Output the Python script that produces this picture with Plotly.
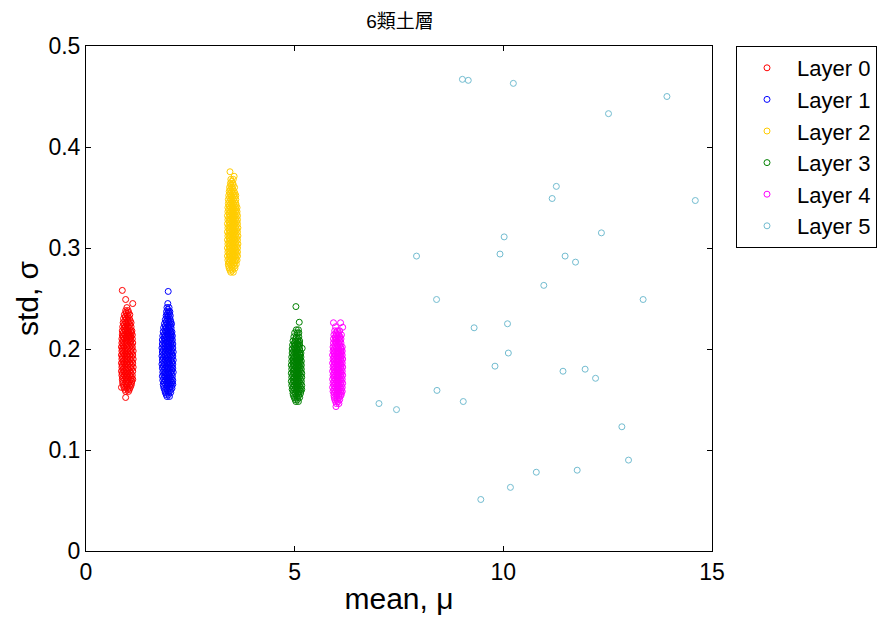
import plotly.graph_objects as go

# ---------------- data ----------------
layer_names = ["Layer 0", "Layer 1", "Layer 2", "Layer 3", "Layer 4", "Layer 5"]
layer_colors = ["#FF0000", "#0000FF", "#FFCC00", "#008000", "#FF00FF", "#72BCD0"]

layer0_mean = [
    0.87, 0.95, 1.12, 0.95, 0.85,
    0.95, 1.02,
    0.91, 0.98, 1.06,
    0.88, 0.95, 1.02, 1.09,
    0.87, 0.93, 1.00, 1.07, 1.12,
    0.86, 0.92, 0.99, 1.05, 1.11,
    0.85, 0.91, 0.97, 1.04, 1.12,
    0.86, 0.93, 1.00, 1.07, 1.13,
    0.85, 0.91, 0.98, 1.05, 1.12,
    0.86, 0.93, 0.99, 1.06, 1.13,
    0.85, 0.92, 0.98, 1.05, 1.12,
    0.86, 0.93, 1.00, 1.07, 1.13,
    0.85, 0.91, 0.98, 1.04, 1.11,
    0.86, 0.93, 0.99, 1.06, 1.12,
    0.86, 0.92, 0.98, 1.05, 1.11,
    0.87, 0.93, 1.00, 1.06, 1.11,
    0.87, 0.94, 1.00, 1.07, 1.10,
    0.88, 0.94, 1.01, 1.08,
    0.89, 0.96, 1.02, 1.08,
    0.90, 0.97, 1.04,
    0.92, 0.99, 1.05,
    0.95, 1.01,
    0.98,
]
layer0_std = [
    0.258, 0.249, 0.245, 0.152, 0.162,
    0.158, 0.158,
    0.162, 0.162, 0.162,
    0.166, 0.166, 0.166, 0.166,
    0.170, 0.170, 0.170, 0.170, 0.170,
    0.174, 0.174, 0.174, 0.174, 0.174,
    0.178, 0.178, 0.178, 0.178, 0.178,
    0.182, 0.182, 0.182, 0.182, 0.182,
    0.186, 0.186, 0.186, 0.186, 0.186,
    0.190, 0.190, 0.190, 0.190, 0.190,
    0.194, 0.194, 0.194, 0.194, 0.194,
    0.198, 0.198, 0.198, 0.198, 0.198,
    0.202, 0.202, 0.202, 0.202, 0.202,
    0.206, 0.206, 0.206, 0.206, 0.206,
    0.210, 0.210, 0.210, 0.210, 0.210,
    0.214, 0.214, 0.214, 0.214, 0.214,
    0.218, 0.218, 0.218, 0.218, 0.218,
    0.222, 0.222, 0.222, 0.222,
    0.226, 0.226, 0.226, 0.226,
    0.230, 0.230, 0.230,
    0.234, 0.234, 0.234,
    0.238, 0.238,
    0.241,
]
layer0_mean_fill = [
    0.93, 1.00, 1.04,
    0.90, 0.97, 1.04, 1.08,
    0.88, 0.96, 1.04, 1.10,
    0.88, 0.95, 1.02, 1.09,
    0.87, 0.94, 1.01, 1.08,
    0.88, 0.95, 1.02, 1.09,
    0.87, 0.94, 1.01, 1.09,
    0.88, 0.95, 1.02, 1.09,
    0.87, 0.94, 1.01, 1.09,
    0.88, 0.95, 1.02, 1.09,
    0.87, 0.94, 1.01, 1.09,
    0.88, 0.95, 1.02, 1.09,
    0.88, 0.95, 1.02, 1.08,
    0.89, 0.96, 1.03, 1.08,
    0.89, 0.97, 1.03, 1.09,
    0.91, 0.97, 1.04,
    0.91, 0.98, 1.05,
    0.93, 1.00, 1.06,
    0.94, 1.01,
    0.96, 1.02,
]
layer0_std_fill = [
    0.160, 0.160, 0.160,
    0.164, 0.164, 0.164, 0.164,
    0.168, 0.168, 0.168, 0.168,
    0.172, 0.172, 0.172, 0.172,
    0.176, 0.176, 0.176, 0.176,
    0.180, 0.180, 0.180, 0.180,
    0.184, 0.184, 0.184, 0.184,
    0.188, 0.188, 0.188, 0.188,
    0.192, 0.192, 0.192, 0.192,
    0.196, 0.196, 0.196, 0.196,
    0.200, 0.200, 0.200, 0.200,
    0.204, 0.204, 0.204, 0.204,
    0.208, 0.208, 0.208, 0.208,
    0.212, 0.212, 0.212, 0.212,
    0.216, 0.216, 0.216, 0.216,
    0.220, 0.220, 0.220,
    0.224, 0.224, 0.224,
    0.228, 0.228, 0.228,
    0.232, 0.232,
    0.236, 0.236,
]

layer1_mean = [
    1.97,
    1.94, 2.00,
    1.90, 1.97, 2.03,
    1.87, 1.93, 2.00, 2.06,
    1.85, 1.91, 1.97, 2.03, 2.08,
    1.84, 1.90, 1.96, 2.02, 2.08,
    1.83, 1.89, 1.95, 2.01, 2.07,
    1.84, 1.90, 1.97, 2.03, 2.09,
    1.83, 1.89, 1.96, 2.02, 2.08,
    1.82, 1.88, 1.95, 2.01, 2.08,
    1.83, 1.90, 1.96, 2.03, 2.09,
    1.82, 1.89, 1.95, 2.02, 2.08,
    1.83, 1.90, 1.97, 2.03, 2.09,
    1.82, 1.89, 1.96, 2.02, 2.08,
    1.83, 1.90, 1.96, 2.03, 2.08,
    1.83, 1.89, 1.95, 2.02, 2.07,
    1.84, 1.90, 1.97, 2.03, 2.07,
    1.85, 1.91, 1.97, 2.03, 2.06,
    1.86, 1.92, 1.98, 2.04,
    1.88, 1.94, 2.00, 2.05,
    1.90, 1.96, 2.02,
    1.92, 1.97, 2.02,
    1.93, 1.98, 2.01,
    1.94, 1.99,
    1.96,
]
layer1_std = [
    0.257,
    0.153, 0.153,
    0.157, 0.157, 0.157,
    0.161, 0.161, 0.161, 0.161,
    0.165, 0.165, 0.165, 0.165, 0.165,
    0.169, 0.169, 0.169, 0.169, 0.169,
    0.173, 0.173, 0.173, 0.173, 0.173,
    0.177, 0.177, 0.177, 0.177, 0.177,
    0.181, 0.181, 0.181, 0.181, 0.181,
    0.185, 0.185, 0.185, 0.185, 0.185,
    0.189, 0.189, 0.189, 0.189, 0.189,
    0.193, 0.193, 0.193, 0.193, 0.193,
    0.197, 0.197, 0.197, 0.197, 0.197,
    0.201, 0.201, 0.201, 0.201, 0.201,
    0.205, 0.205, 0.205, 0.205, 0.205,
    0.209, 0.209, 0.209, 0.209, 0.209,
    0.213, 0.213, 0.213, 0.213, 0.213,
    0.217, 0.217, 0.217, 0.217, 0.217,
    0.221, 0.221, 0.221, 0.221,
    0.225, 0.225, 0.225, 0.225,
    0.229, 0.229, 0.229,
    0.233, 0.233, 0.233,
    0.237, 0.237, 0.237,
    0.241, 0.241,
    0.245,
]
layer1_mean_fill = [
    1.92, 1.98,
    1.89, 1.95, 2.02,
    1.86, 1.94, 2.01, 2.05,
    1.87, 1.93, 2.00, 2.06,
    1.86, 1.93, 1.99, 2.05,
    1.86, 1.92, 1.99, 2.05,
    1.86, 1.93, 2.00, 2.06,
    1.85, 1.92, 1.98, 2.05,
    1.86, 1.93, 1.99, 2.06,
    1.85, 1.92, 1.98, 2.05,
    1.86, 1.93, 2.00, 2.06,
    1.85, 1.92, 1.99, 2.05,
    1.86, 1.93, 1.99, 2.05,
    1.86, 1.92, 1.99, 2.05,
    1.87, 1.93, 2.00, 2.05,
    1.88, 1.94, 2.00, 2.05,
    1.89, 1.95, 2.01,
    1.90, 1.97, 2.03,
    1.92, 1.98, 2.03,
    1.94, 2.00,
    1.95, 2.00,
    1.96,
]
layer1_std_fill = [
    0.155, 0.155,
    0.159, 0.159, 0.159,
    0.163, 0.163, 0.163, 0.163,
    0.167, 0.167, 0.167, 0.167,
    0.171, 0.171, 0.171, 0.171,
    0.175, 0.175, 0.175, 0.175,
    0.179, 0.179, 0.179, 0.179,
    0.183, 0.183, 0.183, 0.183,
    0.187, 0.187, 0.187, 0.187,
    0.191, 0.191, 0.191, 0.191,
    0.195, 0.195, 0.195, 0.195,
    0.199, 0.199, 0.199, 0.199,
    0.203, 0.203, 0.203, 0.203,
    0.207, 0.207, 0.207, 0.207,
    0.211, 0.211, 0.211, 0.211,
    0.215, 0.215, 0.215, 0.215,
    0.219, 0.219, 0.219,
    0.223, 0.223, 0.223,
    0.227, 0.227, 0.227,
    0.231, 0.231,
    0.235, 0.235,
    0.239,
]

layer2_mean = [
    3.45, 3.55,
    3.47, 3.53,
    3.43, 3.50, 3.57,
    3.41, 3.47, 3.54, 3.60,
    3.40, 3.46, 3.52, 3.58, 3.62,
    3.39, 3.45, 3.51, 3.57, 3.63,
    3.40, 3.46, 3.52, 3.58, 3.63,
    3.39, 3.45, 3.51, 3.57, 3.63,
    3.40, 3.46, 3.52, 3.58, 3.64,
    3.39, 3.45, 3.51, 3.57, 3.63,
    3.40, 3.46, 3.52, 3.58, 3.64,
    3.39, 3.45, 3.51, 3.57, 3.63,
    3.40, 3.46, 3.52, 3.58, 3.64,
    3.39, 3.45, 3.51, 3.57, 3.63,
    3.40, 3.46, 3.52, 3.58, 3.63,
    3.39, 3.45, 3.51, 3.57, 3.63,
    3.40, 3.46, 3.52, 3.58, 3.62,
    3.40, 3.46, 3.52, 3.58, 3.62,
    3.41, 3.47, 3.53, 3.59,
    3.41, 3.47, 3.53, 3.59,
    3.42, 3.48, 3.54, 3.59,
    3.43, 3.49, 3.55,
    3.44, 3.50, 3.56,
    3.46, 3.52,
    3.47, 3.53,
]
layer2_std = [
    0.3755, 0.371,
    0.276, 0.276,
    0.280, 0.280, 0.280,
    0.284, 0.284, 0.284, 0.284,
    0.288, 0.288, 0.288, 0.288, 0.288,
    0.292, 0.292, 0.292, 0.292, 0.292,
    0.296, 0.296, 0.296, 0.296, 0.296,
    0.300, 0.300, 0.300, 0.300, 0.300,
    0.304, 0.304, 0.304, 0.304, 0.304,
    0.308, 0.308, 0.308, 0.308, 0.308,
    0.312, 0.312, 0.312, 0.312, 0.312,
    0.316, 0.316, 0.316, 0.316, 0.316,
    0.320, 0.320, 0.320, 0.320, 0.320,
    0.324, 0.324, 0.324, 0.324, 0.324,
    0.328, 0.328, 0.328, 0.328, 0.328,
    0.332, 0.332, 0.332, 0.332, 0.332,
    0.336, 0.336, 0.336, 0.336, 0.336,
    0.340, 0.340, 0.340, 0.340, 0.340,
    0.344, 0.344, 0.344, 0.344,
    0.348, 0.348, 0.348, 0.348,
    0.352, 0.352, 0.352, 0.352,
    0.356, 0.356, 0.356,
    0.360, 0.360, 0.360,
    0.364, 0.364,
    0.368, 0.368,
]
layer2_mean_fill = [
    3.45, 3.51,
    3.42, 3.49, 3.56,
    3.43, 3.50, 3.57,
    3.42, 3.48, 3.54, 3.60,
    3.43, 3.49, 3.55, 3.61,
    3.42, 3.48, 3.54, 3.60,
    3.43, 3.49, 3.55, 3.61,
    3.42, 3.48, 3.54, 3.60,
    3.43, 3.49, 3.55, 3.61,
    3.42, 3.48, 3.54, 3.60,
    3.43, 3.49, 3.55, 3.61,
    3.42, 3.48, 3.54, 3.60,
    3.43, 3.49, 3.55, 3.61,
    3.42, 3.48, 3.54, 3.60,
    3.43, 3.49, 3.55, 3.61,
    3.42, 3.48, 3.54, 3.60,
    3.43, 3.49, 3.55, 3.60,
    3.44, 3.50, 3.56,
    3.44, 3.50, 3.56,
    3.45, 3.51, 3.57,
    3.46, 3.52,
    3.47, 3.53,
    3.49,
]
layer2_std_fill = [
    0.278, 0.278,
    0.282, 0.282, 0.282,
    0.286, 0.286, 0.286,
    0.290, 0.290, 0.290, 0.290,
    0.294, 0.294, 0.294, 0.294,
    0.298, 0.298, 0.298, 0.298,
    0.302, 0.302, 0.302, 0.302,
    0.306, 0.306, 0.306, 0.306,
    0.310, 0.310, 0.310, 0.310,
    0.314, 0.314, 0.314, 0.314,
    0.318, 0.318, 0.318, 0.318,
    0.322, 0.322, 0.322, 0.322,
    0.326, 0.326, 0.326, 0.326,
    0.330, 0.330, 0.330, 0.330,
    0.334, 0.334, 0.334, 0.334,
    0.338, 0.338, 0.338, 0.338,
    0.342, 0.342, 0.342, 0.342,
    0.346, 0.346, 0.346,
    0.350, 0.350, 0.350,
    0.354, 0.354, 0.354,
    0.358, 0.358,
    0.362, 0.362,
    0.366,
]

layer3_mean = [
    5.03, 5.11, 5.18,
    5.03, 5.09,
    4.99, 5.06, 5.12,
    4.96, 5.02, 5.08, 5.14,
    4.94, 5.00, 5.06, 5.12, 5.17,
    4.93, 4.99, 5.05, 5.11, 5.17,
    4.92, 4.98, 5.04, 5.10, 5.16,
    4.93, 4.99, 5.05, 5.11, 5.17,
    4.92, 4.98, 5.04, 5.10, 5.17,
    4.93, 4.99, 5.05, 5.11, 5.16,
    4.92, 4.98, 5.04, 5.10, 5.16,
    4.93, 4.99, 5.05, 5.11, 5.16,
    4.93, 4.99, 5.05, 5.11, 5.15,
    4.94, 5.00, 5.06, 5.12, 5.15,
    4.94, 5.00, 5.06, 5.12,
    4.95, 5.01, 5.07, 5.12,
    4.96, 5.02, 5.08, 5.12,
    4.98, 5.04, 5.10,
    5.00, 5.06, 5.10,
    5.04, 5.09,
]
layer3_std = [
    0.242, 0.2265, 0.2007,
    0.148, 0.148,
    0.152, 0.152, 0.152,
    0.156, 0.156, 0.156, 0.156,
    0.160, 0.160, 0.160, 0.160, 0.160,
    0.164, 0.164, 0.164, 0.164, 0.164,
    0.168, 0.168, 0.168, 0.168, 0.168,
    0.172, 0.172, 0.172, 0.172, 0.172,
    0.176, 0.176, 0.176, 0.176, 0.176,
    0.180, 0.180, 0.180, 0.180, 0.180,
    0.184, 0.184, 0.184, 0.184, 0.184,
    0.188, 0.188, 0.188, 0.188, 0.188,
    0.192, 0.192, 0.192, 0.192, 0.192,
    0.196, 0.196, 0.196, 0.196, 0.196,
    0.200, 0.200, 0.200, 0.200,
    0.204, 0.204, 0.204, 0.204,
    0.208, 0.208, 0.208, 0.208,
    0.212, 0.212, 0.212,
    0.216, 0.216, 0.216,
    0.219, 0.219,
]
layer3_mean_fill = [
    5.01, 5.07,
    4.97, 5.04, 5.10,
    4.97, 5.04, 5.10, 5.15,
    4.96, 5.02, 5.08, 5.14,
    4.95, 5.02, 5.08, 5.14,
    4.96, 5.02, 5.08, 5.14,
    4.95, 5.02, 5.08, 5.14,
    4.96, 5.02, 5.08, 5.14,
    4.95, 5.02, 5.08, 5.14,
    4.96, 5.02, 5.08, 5.14,
    4.96, 5.02, 5.08, 5.13,
    4.97, 5.03, 5.09, 5.13,
    4.97, 5.03, 5.09,
    4.98, 5.04, 5.10,
    4.99, 5.05, 5.11,
    5.02, 5.08,
]
layer3_std_fill = [
    0.150, 0.150,
    0.154, 0.154, 0.154,
    0.158, 0.158, 0.158, 0.158,
    0.162, 0.162, 0.162, 0.162,
    0.166, 0.166, 0.166, 0.166,
    0.170, 0.170, 0.170, 0.170,
    0.174, 0.174, 0.174, 0.174,
    0.178, 0.178, 0.178, 0.178,
    0.182, 0.182, 0.182, 0.182,
    0.186, 0.186, 0.186, 0.186,
    0.190, 0.190, 0.190, 0.190,
    0.194, 0.194, 0.194, 0.194,
    0.198, 0.198, 0.198,
    0.202, 0.202, 0.202,
    0.206, 0.206, 0.206,
    0.210, 0.210,
]

layer4_mean = [
    5.93, 6.10, 5.98, 6.15, 5.99,
    6.00, 6.06,
    5.96, 6.02, 6.08,
    5.94, 6.00, 6.06, 6.11,
    5.92, 5.98, 6.04, 6.10, 6.14,
    5.91, 5.97, 6.03, 6.09, 6.14,
    5.92, 5.98, 6.04, 6.10, 6.15,
    5.91, 5.97, 6.03, 6.09, 6.14,
    5.92, 5.98, 6.04, 6.10, 6.15,
    5.91, 5.97, 6.03, 6.09, 6.14,
    5.92, 5.98, 6.04, 6.10, 6.15,
    5.91, 5.97, 6.03, 6.09, 6.14,
    5.92, 5.98, 6.04, 6.10, 6.15,
    5.91, 5.97, 6.03, 6.09, 6.14,
    5.92, 5.98, 6.04, 6.10, 6.14,
    5.92, 5.98, 6.04, 6.10, 6.14,
    5.93, 5.99, 6.05, 6.11,
    5.93, 5.99, 6.05, 6.11,
    5.94, 6.00, 6.06, 6.12,
    5.96, 6.02, 6.08,
]
layer4_std = [
    0.226, 0.226, 0.222, 0.2215, 0.143,
    0.146, 0.146,
    0.150, 0.150, 0.150,
    0.154, 0.154, 0.154, 0.154,
    0.158, 0.158, 0.158, 0.158, 0.158,
    0.162, 0.162, 0.162, 0.162, 0.162,
    0.166, 0.166, 0.166, 0.166, 0.166,
    0.170, 0.170, 0.170, 0.170, 0.170,
    0.174, 0.174, 0.174, 0.174, 0.174,
    0.178, 0.178, 0.178, 0.178, 0.178,
    0.182, 0.182, 0.182, 0.182, 0.182,
    0.186, 0.186, 0.186, 0.186, 0.186,
    0.190, 0.190, 0.190, 0.190, 0.190,
    0.194, 0.194, 0.194, 0.194, 0.194,
    0.198, 0.198, 0.198, 0.198, 0.198,
    0.202, 0.202, 0.202, 0.202, 0.202,
    0.206, 0.206, 0.206, 0.206,
    0.210, 0.210, 0.210, 0.210,
    0.214, 0.214, 0.214, 0.214,
    0.218, 0.218, 0.218,
]
layer4_mean_fill = [
    5.98, 6.04,
    5.95, 6.01, 6.07,
    5.95, 6.01, 6.07, 6.12,
    5.94, 6.00, 6.06, 6.12,
    5.94, 6.00, 6.06, 6.12,
    5.94, 6.00, 6.06, 6.12,
    5.94, 6.00, 6.06, 6.12,
    5.94, 6.00, 6.06, 6.12,
    5.94, 6.00, 6.06, 6.12,
    5.94, 6.00, 6.06, 6.12,
    5.94, 6.00, 6.06, 6.12,
    5.94, 6.00, 6.06, 6.12,
    5.94, 6.00, 6.06, 6.12,
    5.94, 6.00, 6.06, 6.12,
    5.96, 6.02, 6.08,
    5.96, 6.02, 6.08,
    5.97, 6.03, 6.09,
    5.99, 6.05,
]
layer4_std_fill = [
    0.148, 0.148,
    0.152, 0.152, 0.152,
    0.156, 0.156, 0.156, 0.156,
    0.160, 0.160, 0.160, 0.160,
    0.164, 0.164, 0.164, 0.164,
    0.168, 0.168, 0.168, 0.168,
    0.172, 0.172, 0.172, 0.172,
    0.176, 0.176, 0.176, 0.176,
    0.180, 0.180, 0.180, 0.180,
    0.184, 0.184, 0.184, 0.184,
    0.188, 0.188, 0.188, 0.188,
    0.192, 0.192, 0.192, 0.192,
    0.196, 0.196, 0.196, 0.196,
    0.200, 0.200, 0.200, 0.200,
    0.204, 0.204, 0.204,
    0.208, 0.208, 0.208,
    0.212, 0.212, 0.212,
    0.216, 0.216,
]

layer5_mean = [
    9.02, 9.16, 10.24, 11.27, 11.17, 10.02, 7.92, 9.92, 11.48, 11.73, 10.97,
    8.40, 9.30, 10.10, 10.12, 9.80, 11.43, 11.96, 12.21, 8.41, 9.04, 7.02,
    7.44, 10.79, 11.77, 10.17, 9.46, 13.92, 12.52, 14.60, 12.35, 13.35,
    12.84, 13.00,
]
layer5_std = [
    0.467, 0.466, 0.463, 0.361, 0.349, 0.311, 0.292, 0.294, 0.292, 0.286, 0.263,
    0.249, 0.221, 0.225, 0.196, 0.183, 0.178, 0.180, 0.171, 0.159, 0.148, 0.146,
    0.140, 0.078, 0.080, 0.063, 0.051, 0.450, 0.433, 0.347, 0.315, 0.249,
    0.123, 0.090,
]

x_ticks = [0, 5, 10, 15]
y_ticks = [0, 0.1, 0.2, 0.3, 0.4, 0.5]
y_tick_text = ["0", "0.1", "0.2", "0.3", "0.4", "0.5"]

title_text = "6類土層"
x_title = "mean, μ"
y_title = "std, σ"

# ---------------- figure ----------------
means = [
    layer0_mean + layer0_mean_fill,
    layer1_mean + layer1_mean_fill,
    layer2_mean + layer2_mean_fill,
    layer3_mean + layer3_mean_fill,
    layer4_mean + layer4_mean_fill,
    layer5_mean,
]
stds = [
    layer0_std + layer0_std_fill,
    layer1_std + layer1_std_fill,
    layer2_std + layer2_std_fill,
    layer3_std + layer3_std_fill,
    layer4_std + layer4_std_fill,
    layer5_std,
]

fig = go.Figure()
for i, (name, col) in enumerate(zip(layer_names, layer_colors)):
    fig.add_trace(go.Scatter(
        x=means[i], y=stds[i], mode="markers", name=name,
        marker=dict(symbol="circle-open", size=6, color=col, line=dict(width=1, color=col)),
    ))

font_main = "Liberation Sans, Arial, sans-serif"
axis_common = dict(
    showgrid=False, zeroline=False, showline=True, linecolor="black", linewidth=1,
    mirror="ticks", ticks="inside", ticklen=5, tickcolor="black",
    tickfont=dict(family=font_main, size=23, color="black"),
)

fig.update_layout(
    width=878, height=621,
    margin=dict(l=86, r=166, t=46, b=70, autoexpand=False),
    paper_bgcolor="white", plot_bgcolor="white",
    title=dict(text=title_text, x=400 / 878, xanchor="center", y=1 - 21 / 621, yanchor="middle",
               font=dict(family="Liberation Sans, Noto Sans CJK TC, sans-serif", size=19, color="black")),
    xaxis=dict(range=[0, 15], tickvals=x_ticks, ticktext=[str(v) for v in x_ticks],
               title=dict(text=x_title, font=dict(family=font_main, size=30, color="black"), standoff=4),
               **axis_common),
    yaxis=dict(range=[0, 0.5], tickvals=y_ticks, ticktext=y_tick_text,
               title=dict(text=y_title, font=dict(family=font_main, size=30, color="black"), standoff=0),
               **axis_common),
    legend=dict(x=(736 - 86) / 626, y=1.0, xanchor="left", yanchor="top",
                bordercolor="black", borderwidth=1, bgcolor="white",
                font=dict(family=font_main, size=22, color="black"),
                itemwidth=50),
    showlegend=True,
)

fig.write_html("out.html")
